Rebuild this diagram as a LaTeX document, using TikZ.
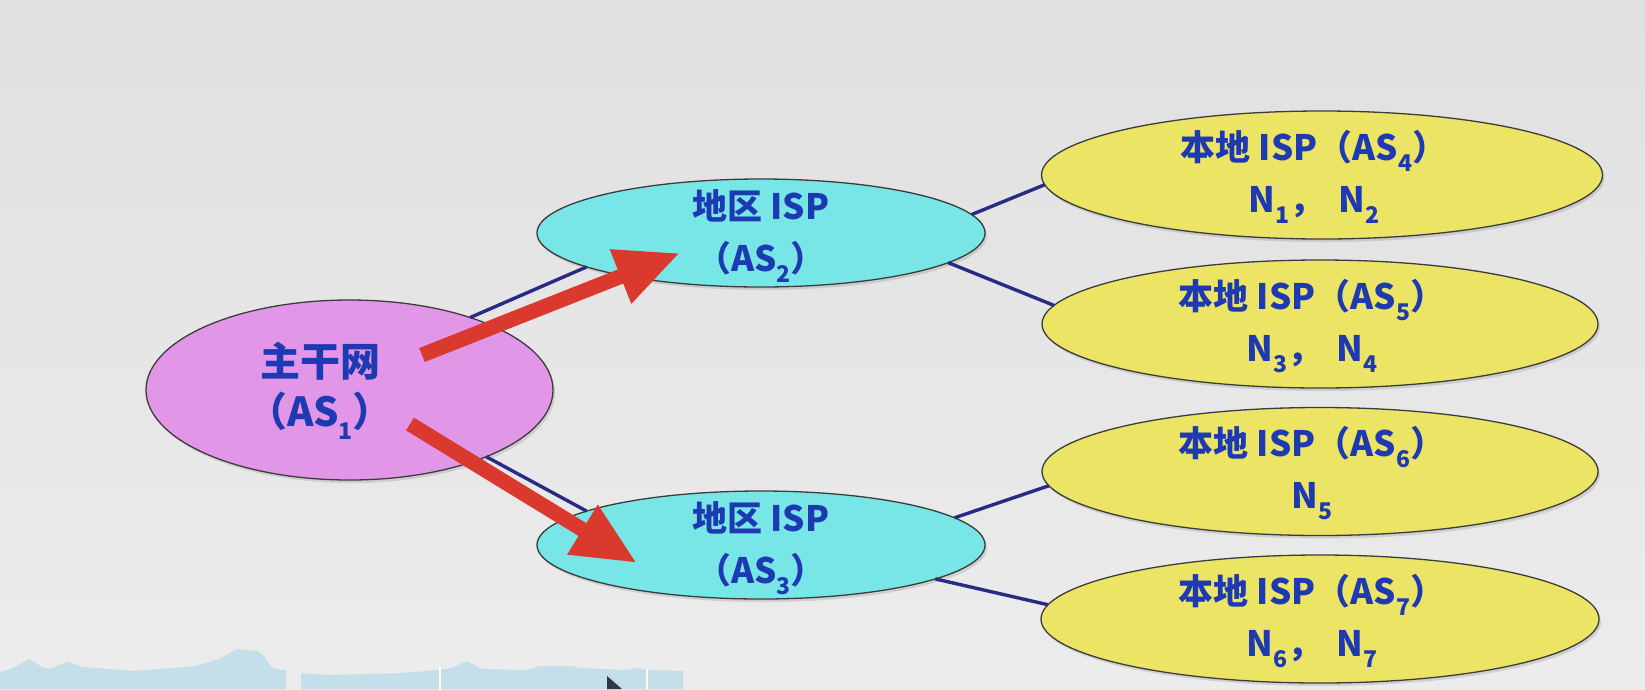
\documentclass[tikz,border=0pt]{standalone}
\usepackage{fontspec}
\setmainfont{Noto Sans CJK SC}
\usetikzlibrary{shapes.geometric,arrows.meta,shadows}

\definecolor{bgtop}{RGB}{224,224,224}
\definecolor{bgbot}{RGB}{236,236,236}
\definecolor{outl}{RGB}{60,60,60}
\definecolor{bbfill}{RGB}{225,150,232}
\definecolor{regfill}{RGB}{120,230,230}
\definecolor{locfill}{RGB}{236,228,100}
\definecolor{txtblue}{RGB}{30,58,178}
\definecolor{navy}{RGB}{40,42,132}
\definecolor{arrred}{RGB}{218,58,46}
\definecolor{hills}{RGB}{196,223,233}
\definecolor{cursor}{RGB}{45,58,68}

% lowered index digit for AS / N labels
\newcommand\asidx[1]{\raisebox{-0.32em}{\fontsize{23}{23}\selectfont #1}}

\begin{document}
\begin{tikzpicture}[x=1pt,y=-1pt,
  blob/.style={ellipse, draw=outl, line width=1.3pt, inner sep=0pt, outer sep=0pt,
               drop shadow={shadow xshift=2pt, shadow yshift=-3pt, opacity=0.25}},
  backbone/.style={blob, fill=bbfill, minimum width=407pt, minimum height=180pt},
  regional/.style={blob, fill=regfill, minimum width=448pt, minimum height=108pt},
  localisp/.style={blob, fill=locfill, minimum width=558pt, minimum height=128pt},
  txt/.style={font=\fontsize{35}{52}\selectfont\bfseries, text=txtblue, align=center, inner sep=0pt},
  link/.style={draw=navy, line width=3.4pt},
  route/.style={draw=arrred, line width=15pt, -{Triangle[length=64pt,width=54pt]}}
]
\useasboundingbox (0,0) rectangle (1645,689);

% slide background
\shade[top color=bgtop, bottom color=bgbot] (0,0) rectangle (1645,689);

% hills along the bottom edge
\fill[hills] (0,689) -- (0,672) -- (13,668) -- (29,659) -- (42,667) -- (49,669)
  -- (67,662) -- (83,667) -- (134,671) -- (196,666) -- (219,659) -- (237,649)
  -- (257,651) -- (263,655) -- (272,668) -- (283,670) -- (286,670) -- (286,689) -- cycle;
\fill[hills] (301,689) -- (301,673) -- (328,675) -- (402,673) -- (437,670) -- (451,668)
  -- (467,661) -- (482,669) -- (527,670) -- (540,666) -- (571,666) -- (580,668)
  -- (625,670) -- (638,668) -- (647,670) -- (683,671) -- (683,689) -- cycle;
\draw[white, line width=1.5pt] (440,667) -- (440,689);
\draw[white, line width=1.5pt] (647,669) -- (647,689);
\fill[cursor] (607,676) -- (622,689) -- (607,689) -- cycle;

% autonomous systems
\node[backbone] (bb)  at (349.5,390) {};
\node[regional] (as2) at (761,233) {};
\node[regional] (as3) at (761,545) {};
\node[localisp, minimum width=561pt] (as4) at (1322,175) {};
\node[localisp, minimum width=556pt] (as5) at (1320,324) {};
\node[localisp, minimum width=556pt] (as6) at (1320,471.5) {};
\node[localisp, minimum width=558pt] (as7) at (1320,619) {};

% labels
\node[txt, font=\fontsize{40}{50}\selectfont\bfseries] (bbt) at (320,391) {主干网\\（AS\asidx{1}）};
\node[txt] (as2t) at (761,236) {地区 ISP\\（AS\asidx{2}）};
\node[txt] (as3t) at (761,548) {地区 ISP\\（AS\asidx{3}）};
\node[txt] (as4t) at (1314,177) {本地 ISP（AS\asidx{4}）\\N\asidx{1}，\hspace{0.4em}N\asidx{2}};
\node[txt] (as5t) at (1312,326) {本地 ISP（AS\asidx{5}）\\N\asidx{3}，\hspace{0.4em}N\asidx{4}};
\node[txt] (as6t) at (1312,473) {本地 ISP（AS\asidx{6}）\\N\asidx{5}};
\node[txt] (as7t) at (1312,621) {本地 ISP（AS\asidx{7}）\\N\asidx{6}，\hspace{0.4em}N\asidx{7}};

% peering links
\draw[link] (bb.31.9)  -- (as2.191.7);
\draw[link] (bb.-26.2) -- (as3.169.8);
\draw[link] (as2.5.5)  -- (as4.182.3);
\draw[link] (as2.-9.9) -- (as5.176);
\draw[link] (as3.8.2)  -- (as6.183.3);
\draw[link] (as3.-11.1) -- (as7.177.5);

% route announcements from the backbone
\coordinate (upfrom) at (422,355);
\coordinate (upto)   at (680,253);
\coordinate (dnfrom) at (410,424);
\coordinate (dnto)   at (637,563);
\draw[route] (upfrom) -- (upto);
\draw[route] (dnfrom) -- (dnto);
\end{tikzpicture}
\end{document}
